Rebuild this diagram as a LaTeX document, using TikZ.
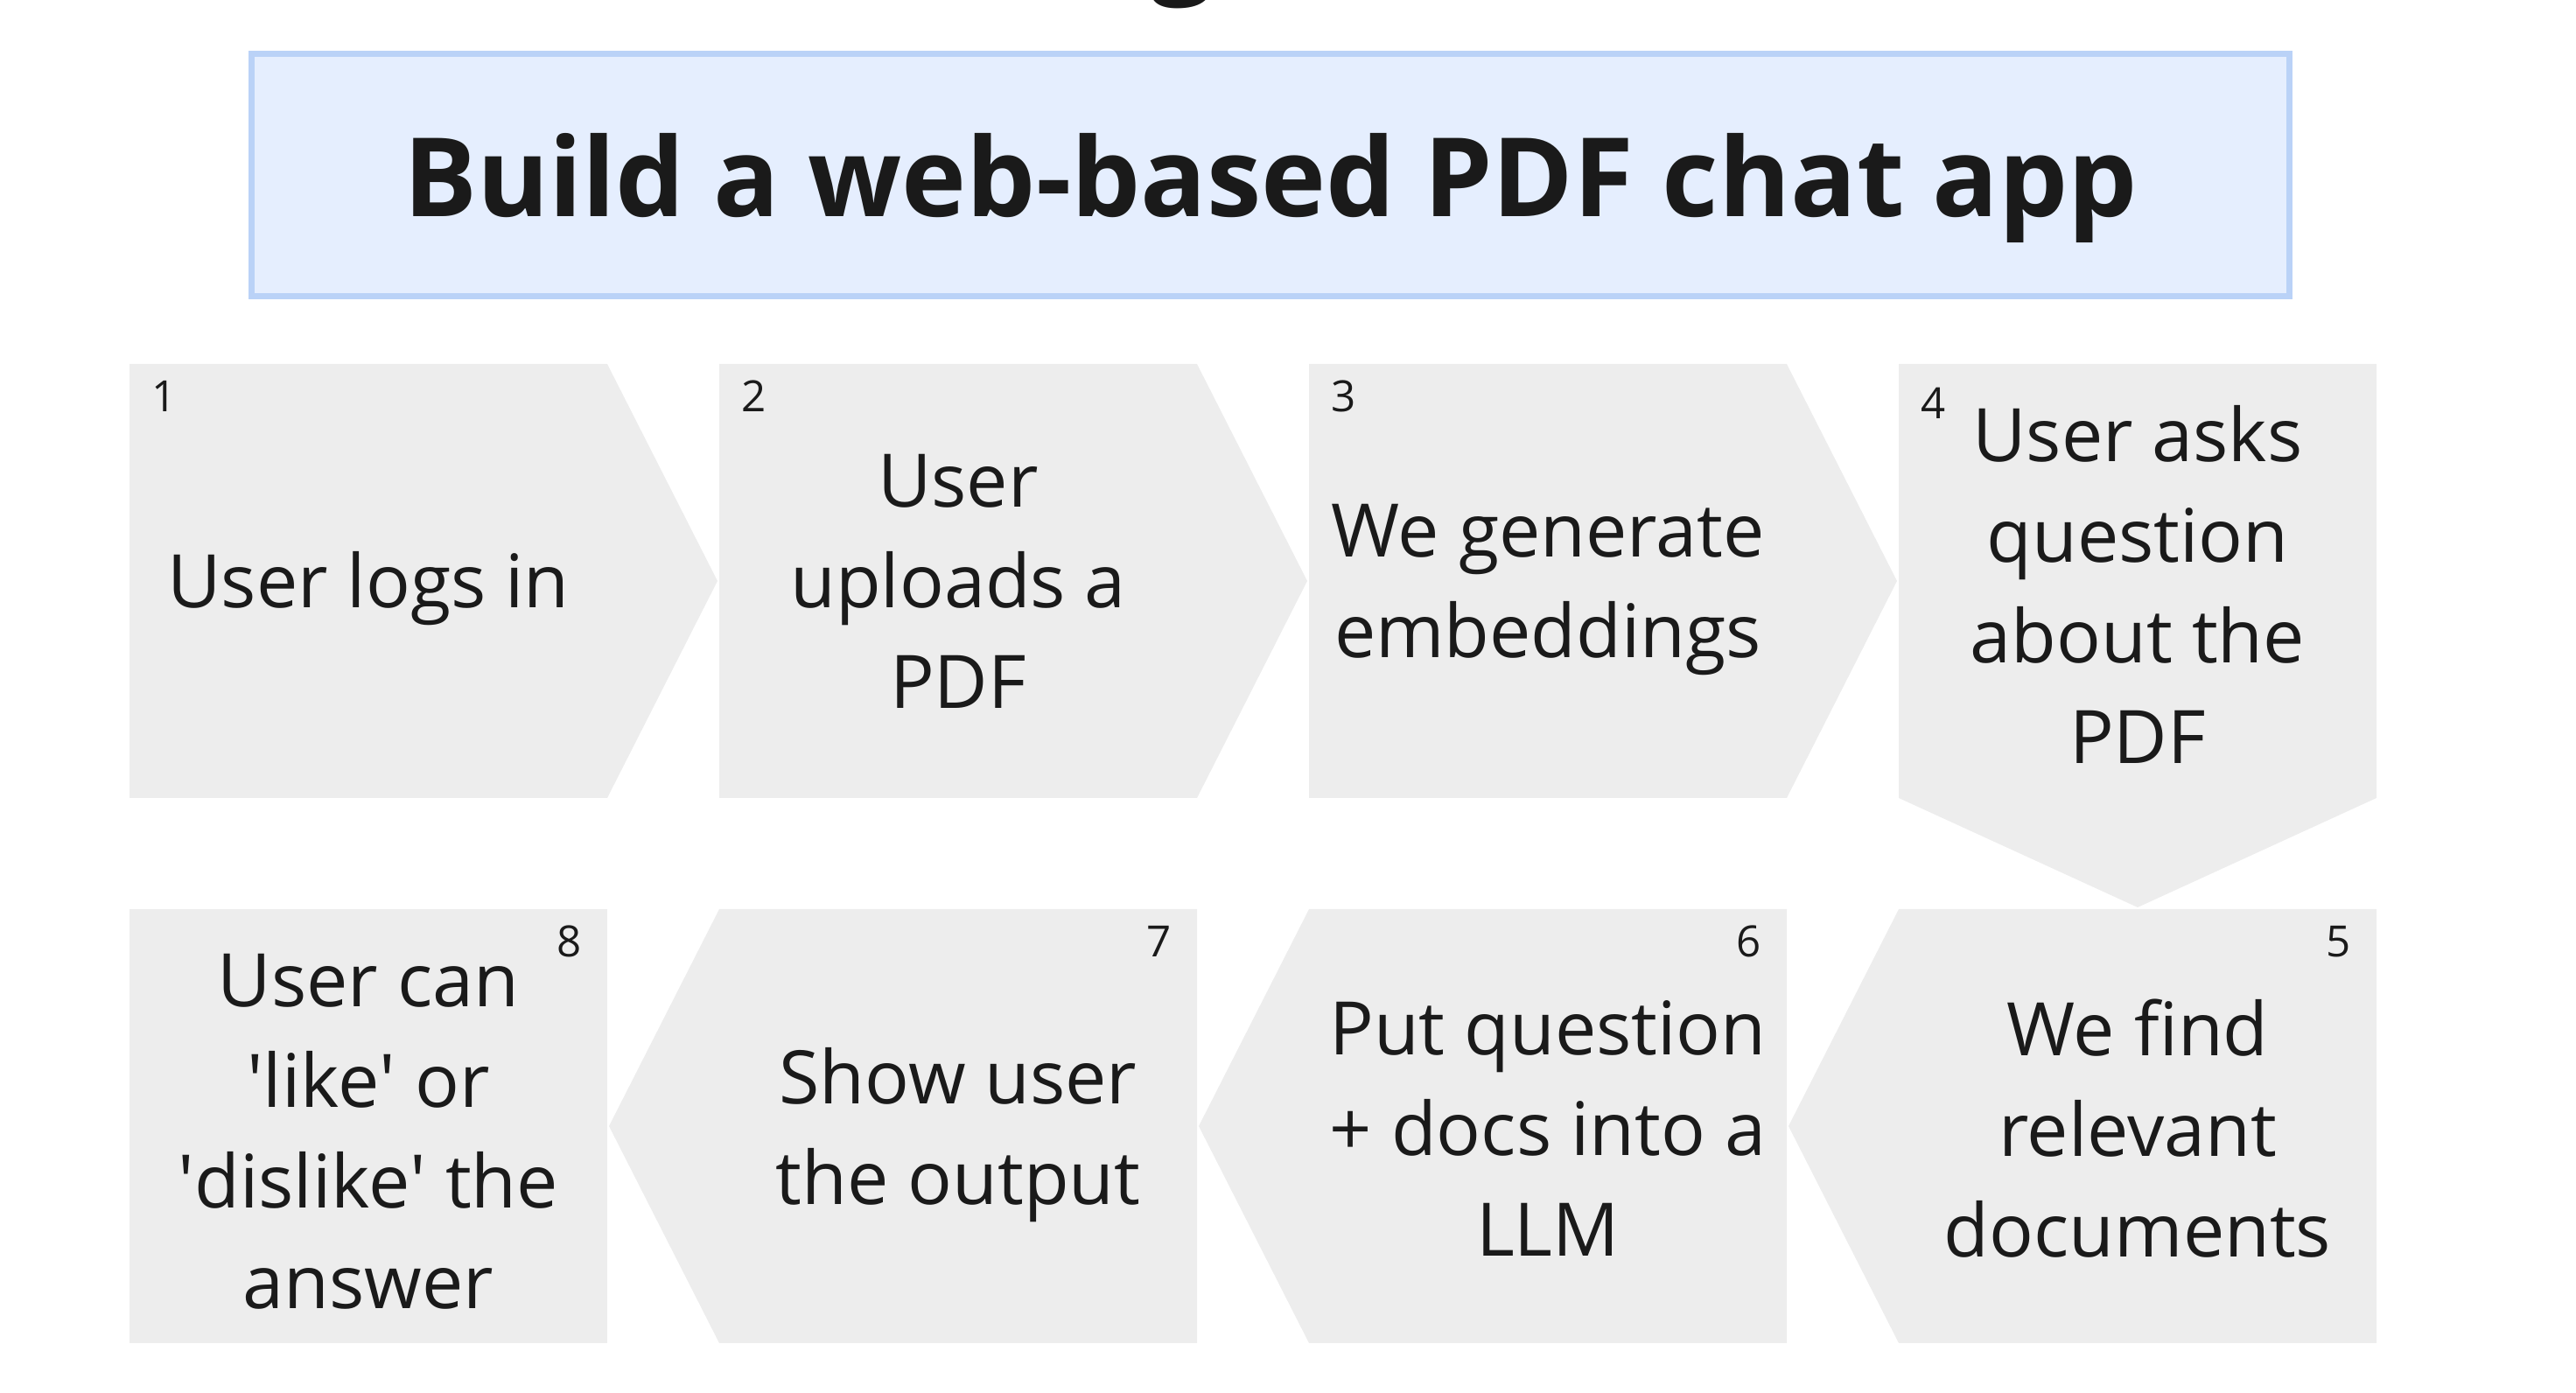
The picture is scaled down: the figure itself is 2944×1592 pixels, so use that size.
\documentclass[tikz,border=0pt]{standalone}
\usepackage{fontspec}
\setmainfont{Open Sans}
\definecolor{stepgray}{HTML}{EDEDED}
\definecolor{titlefill}{HTML}{E5EEFE}
\definecolor{titleline}{HTML}{BAD2F7}
\definecolor{ink}{HTML}{1A1A1A}
\begin{document}
\begin{tikzpicture}[x=0.01cm, y=-0.01cm,
  stepshape/.style={fill=stepgray},
  steptext/.style={align=center, text=ink, inner sep=0pt, font=\fontsize{24}{32.7}\selectfont},
  stepnum/.style={text=ink, inner sep=0pt, font=\fontsize{14}{16}\selectfont}]
\useasboundingbox (0,0) rectangle (2944,1592);

% cut heading above
\node[anchor=base, text=ink, inner sep=0pt, font=\bfseries\fontsize{36}{40}\selectfont] (cut) at (1351,-20) {g};

\node[draw=titleline, fill=titlefill, line width=1.85pt, minimum width=23.28cm, minimum height=2.77cm,
  text depth=0pt, text=ink, font=\bfseries\fontsize{35.6}{40}\selectfont] (title) at (1452,200) {Build a web-based PDF chat app};

% first row
\fill[stepshape] (148,416) -- (694,416) -- (820,664) -- (694,912) -- (148,912) -- cycle;
\fill[stepshape] (822,416) -- (1368,416) -- (1494,664) -- (1368,912) -- (822,912) -- cycle;
\fill[stepshape] (1496,416) -- (2042,416) -- (2168,664) -- (2042,912) -- (1496,912) -- cycle;
\fill[stepshape] (2170,416) -- (2716,416) -- (2716,912) -- (2443,1037) -- (2170,912) -- cycle;

% second row
\fill[stepshape] (2170,1039) -- (2716,1039) -- (2716,1535) -- (2170,1535) -- (2044,1287) -- cycle;
\fill[stepshape] (1496,1039) -- (2042,1039) -- (2042,1535) -- (1496,1535) -- (1370,1287) -- cycle;
\fill[stepshape] (822,1039) -- (1368,1039) -- (1368,1535) -- (822,1535) -- (696,1287) -- cycle;
\fill[stepshape] (148,1039) rectangle (694,1535);

\node[steptext] (s1) at (421,673) {User logs in};
\node[steptext] (s2) at (1095,664) {User\\uploads a\\PDF};
\node[steptext] (s3) at (1769,674) {We generate\\embeddings};
\node[steptext] (s4) at (2443,668) {User asks\\question\\about the\\PDF};
\node[steptext] (s5) at (2443,1290) {We find\\relevant\\documents};
\node[steptext] (s6) at (1769,1290) {Put question\\+ docs into a\\LLM};
\node[steptext] (s7) at (1095,1297) {Show user\\the output};
\node[steptext] (s8) at (421,1293) {User can\\\textquotesingle like\textquotesingle{} or\\\textquotesingle dislike\textquotesingle{} the\\answer};

\node[stepnum] (n1) at (188,453) {1};
\node[stepnum] (n2) at (862,453) {2};
\node[stepnum] (n3) at (1536,453) {3};
\node[stepnum] (n4) at (2210,461) {4};
\node[stepnum] (n5) at (2673,1076) {5};
\node[stepnum] (n6) at (1999,1076) {6};
\node[stepnum] (n7) at (1325,1076) {7};
\node[stepnum] (n8) at (651,1076) {8};

\end{tikzpicture}
\end{document}
